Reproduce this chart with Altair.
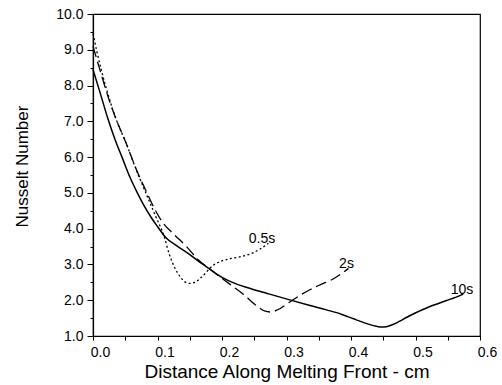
import altair as alt
import pandas as pd

# 10 s curve (solid)
x_10s = [0.0, 0.012, 0.023, 0.034, 0.046, 0.057, 0.068, 0.078, 0.09, 0.1, 0.112, 0.13, 0.148, 0.165,
         0.181, 0.2, 0.22, 0.245, 0.27, 0.305, 0.335, 0.362, 0.385, 0.404, 0.422, 0.435, 0.446, 0.455,
         0.466, 0.48, 0.498, 0.518, 0.548, 0.562, 0.574]
y_10s = [8.45, 7.74, 7.08, 6.5, 5.95, 5.45, 5.03, 4.68, 4.32, 4.06, 3.77, 3.52, 3.3, 3.07,
         2.87, 2.64, 2.47, 2.32, 2.19, 2.01, 1.86, 1.73, 1.61, 1.48, 1.36, 1.29, 1.25, 1.26,
         1.33, 1.46, 1.63, 1.79, 1.99, 2.08, 2.17]

# 0.5 s curve (dotted)
x_05s = [0.0, 0.006, 0.013, 0.025, 0.036, 0.05, 0.068, 0.083, 0.097, 0.11, 0.118, 0.127, 0.135,
         0.142, 0.15, 0.158, 0.166, 0.174, 0.181, 0.19, 0.2, 0.215, 0.23, 0.245, 0.258, 0.272]
y_05s = [9.45, 8.95, 8.43, 7.65, 7.05, 6.45, 5.6, 4.95, 4.35, 3.8, 3.3, 2.9, 2.66,
         2.52, 2.47, 2.5, 2.61, 2.75, 2.89, 3.02, 3.1, 3.17, 3.22, 3.3, 3.42, 3.59]

# 2 s curve (dashed)
x_2s = [0.0, 0.013, 0.025, 0.036, 0.05, 0.068, 0.085, 0.097, 0.109, 0.125, 0.145, 0.161, 0.181,
        0.197, 0.212, 0.233, 0.254, 0.266, 0.276, 0.287, 0.305, 0.321, 0.337, 0.352, 0.373, 0.385, 0.396]
y_2s = [9.1, 8.3, 7.6, 7.05, 6.45, 5.62, 4.95, 4.5, 4.15, 3.85, 3.5, 3.17, 2.87,
        2.65, 2.45, 2.17, 1.84, 1.7, 1.67, 1.74, 1.95, 2.14, 2.3, 2.43, 2.6, 2.74, 2.89]

# curve labels
label_text = ["0.5s", "2s", "10s"]
label_x = [0.262, 0.393, 0.572]
label_y = [3.70, 3.00, 2.28]

# axis ticks (major + minor)
x_ticks = [0.0, 0.05, 0.1, 0.15, 0.2, 0.25, 0.3, 0.35, 0.4, 0.45, 0.5, 0.55, 0.6]
y_ticks = [1, 1.5, 2, 2.5, 3, 3.5, 4, 4.5, 5, 5.5, 6, 6.5, 7, 7.5, 8, 8.5, 9, 9.5, 10]

FONT = "Liberation Sans"

xscale = alt.Scale(domain=[0, 0.6], nice=False, zero=False)
yscale = alt.Scale(domain=[1, 10], nice=False, zero=False)

xaxis = alt.Axis(
    values=x_ticks,
    labelExpr="abs(round(datum.value*100) % 10) < 1 ? format(datum.value, '.1f') : ''",
    tickSize=4, labelFontSize=14, labelFont=FONT, labelOffset=7, labelPadding=5,
    labelFlush=False, labelOverlap=False, grid=False,
    title="Distance Along Melting Front - cm", titleFontSize=19, titleFont=FONT,
    titleFontWeight="normal", titleBaseline="alphabetic", titleY=41,
)
yaxis = alt.Axis(
    values=y_ticks,
    labelExpr="(round(datum.value*10) % 10) == 0 ? format(datum.value, '.1f') : ''",
    tickSize={"condition": {"test": "(round(datum.value*10) % 10) != 0", "value": 3}, "value": 6},
    labelFontSize=14, labelFont=FONT,
    labelPadding=4, labelFlush=False, labelOverlap=False, grid=False,
    title="Nusselt Number", titleFontSize=17, titleFont=FONT, titleFontWeight="normal",
    titleBaseline="alphabetic", titleX=-66, titleY=152, titleAlign="center",
)

X = alt.X("x:Q", scale=xscale, axis=xaxis)
Y = alt.Y("y:Q", scale=yscale, axis=yaxis)


def curve(xs, ys, width, dash=None):
    df = pd.DataFrame({"x": xs, "y": ys})
    kw = dict(color="black", strokeWidth=width, interpolate="monotone")
    if dash is not None:
        kw["strokeDash"] = dash
    return alt.Chart(df).mark_line(**kw).encode(x=X, y=Y)


solid = curve(x_10s, y_10s, 1.5)
dotted = curve(x_05s, y_05s, 1.3, [2, 2.5])
dashed = curve(x_2s, y_2s, 1.3, [11, 5])

labels = alt.Chart(pd.DataFrame({"x": label_x, "y": label_y, "t": label_text})).mark_text(
    font=FONT, fontSize=14, color="black", align="center", baseline="middle"
).encode(x=X, y=Y, text="t:N")

chart = alt.layer(solid, dotted, dashed, labels).properties(
    width=387, height=322,
    autosize=alt.AutoSizeParams(type="none"),
    padding={"left": 93, "top": 14, "right": 22, "bottom": 49},
    background="white",
).configure_view(
    stroke="black", strokeWidth=1.2
).configure_axis(
    domainColor="black", tickColor="black", labelColor="black", titleColor="black",
    domainWidth=1.2, tickWidth=1,
)

chart.save("out.html", embed_options={"renderer": "svg", "actions": False})
